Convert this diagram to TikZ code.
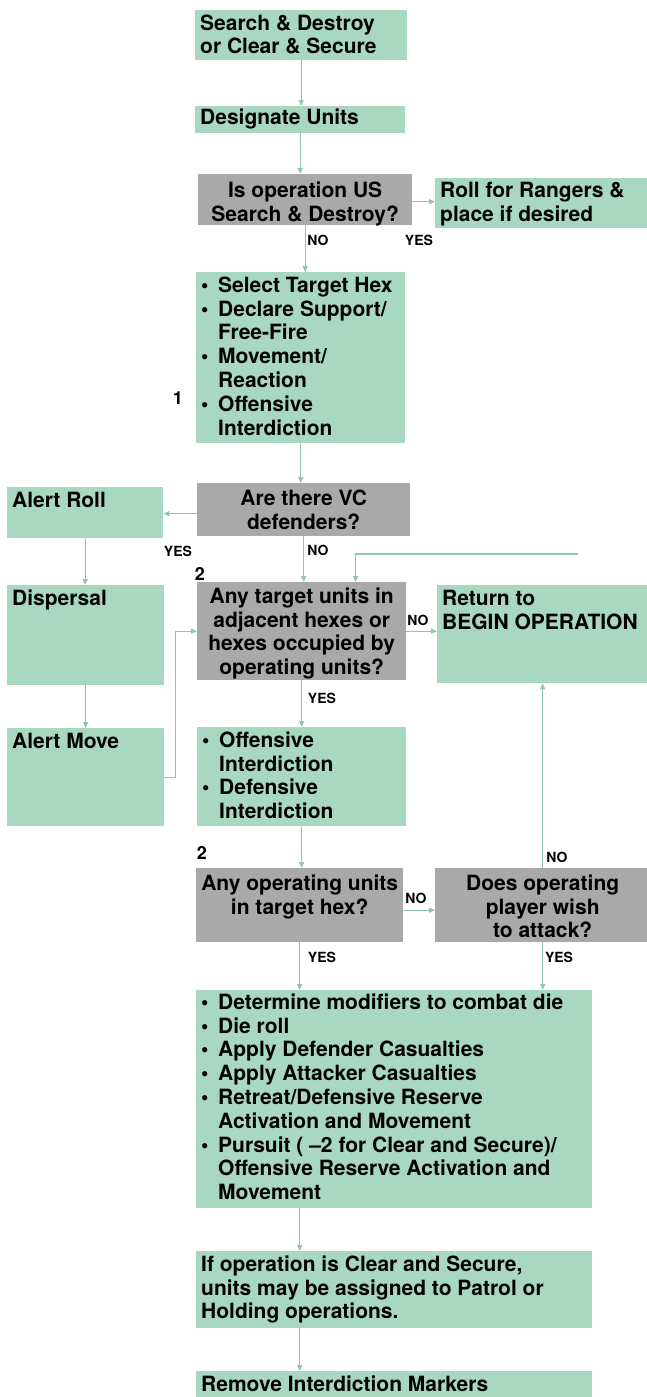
\documentclass[tikz,border=0pt]{standalone}
\usepackage{fontspec}
\setmainfont{TeX Gyre Heros}
\usetikzlibrary{arrows.meta,calc}
\definecolor{gfill}{HTML}{A8D8C2}
\definecolor{kfill}{HTML}{A9A9A9}
\definecolor{lcol}{HTML}{8EC6AF}
\newcommand\gtxt[4][20]{\parbox[c][#3pt][t]{#2pt}{\raggedright\rule{0pt}{#1pt}\ignorespaces#4}}
\newcommand\ctxt[4][22]{\parbox[c][#3pt][t]{#2pt}{\centering\rule{0pt}{#1pt}\ignorespaces#4}}
\newcommand\itm[1]{\hangindent=17pt\hangafter=1\makebox[17pt][l]{•}#1}
\tikzset{
  base/.style={inner xsep=5pt, inner ysep=0pt, anchor=north west,
    font=\fontsize{21}{23.8}\selectfont\bfseries, text=black},
  gbox/.style={base, fill=gfill},
  kbox/.style={base, fill=kfill},
  conn/.style={draw=lcol, line width=1.2pt, -{Triangle[length=6pt,width=5pt]}},
  lbl/.style={font=\fontsize{14}{14}\selectfont\bfseries, inner sep=0pt},
  num/.style={font=\fontsize{18}{18}\selectfont\bfseries, inner sep=0pt}
}
\begin{document}
\begin{tikzpicture}[x=1pt,y=-1pt]
\useasboundingbox[fill=white] (0,0) rectangle (646,1397);

% boxes
\node[gbox] (b1) at (195,10) {\gtxt{202}{50}{Search \& Destroy\\or Clear \& Secure}};
\node[gbox] (b2) at (195,106) {\gtxt[18]{200}{27}{Designate Units}};
\node[kbox] (b3) at (198,174) {\ctxt[23]{204}{51}{Is operation US\\Search \& Destroy?}};
\node[gbox] (b4) at (435,178) {\gtxt[19]{205}{50}{Roll for Rangers \&\\place if desired}};
\node[gbox] (b5) at (196,272) {\gtxt{199}{171}{\itm{Select Target Hex}\par
  \itm{Declare Support/\newline Free-Fire}\par
  \itm{Movement/\newline Reaction}\par
  \itm{Offensive\newline Interdiction}}};
\node[kbox] (b6) at (197,483) {\ctxt{203}{53}{Are there VC\\defenders?}};
\node[gbox] (ar) at (7,487) {\gtxt{146}{51}{Alert Roll}};
\node[kbox] (b9) at (197,582) {\ctxt[21]{199}{98}{Any target units in\\adjacent hexes or\\hexes occupied by\\operating units?}};
\node[gbox] (dp) at (7,585) {\gtxt{147}{100}{Dispersal}};
\node[gbox] (rt) at (437,585) {\gtxt{205}{98}{Return to\\BEGIN OPERATION}};
\node[gbox] (am) at (7,728) {\gtxt{147}{98}{Alert Move}};
\node[gbox] (b14) at (197,727) {\gtxt{199}{99}{\itm{Offensive\newline Interdiction}\par
  \itm{Defensive\newline Interdiction}}};
\node[kbox] (b15) at (196,868) {\ctxt{197}{74}{Any operating units\\in target hex?}};
\node[kbox] (b16) at (435,868) {\ctxt{205}{74}{Does operating\\player wish\\to attack?}};
\node[gbox] (b17) at (196,990) {\gtxt[19]{386}{218}{\itm{Determine modifiers to combat die}\par
  \itm{Die roll}\par
  \itm{Apply Defender Casualties}\par
  \itm{Apply Attacker Casualties}\par
  \itm{Retreat/Defensive Reserve\newline Activation and Movement}\par
  \itm{Pursuit ( –2 for Clear and Secure)/\newline Offensive Reserve Activation and\newline Movement}}};
\node[gbox] (b18) at (196,1251) {\gtxt{386}{77}{If operation is Clear and Secure,\\units may be assigned to Patrol or\\Holding operations.}};
\node[gbox] (b19) at (196,1371) {\gtxt{386}{30}{Remove Interdiction Markers}};

% labels
\node[lbl] (l1) at (318,240) {NO};
\node[lbl] (l2) at (419,240) {YES};
\node[num] (n1) at (178,398) {1};
\node[lbl] (l3) at (178,551) {YES};
\node[lbl] (l4) at (318,550) {NO};
\node[num] (n2) at (200,574) {2};
\node[lbl] (l5) at (418,620) {NO};
\node[lbl] (l6) at (322,698) {YES};
\node[num] (n3) at (202,853) {2};
\node[lbl] (l7) at (557,857) {NO};
\node[lbl] (l8) at (416,898) {NO};
\node[lbl] (l9) at (322,957) {YES};
\node[lbl] (l10) at (559,957) {YES};

% connectors
\draw[conn] (b1.south) -- (b1.south |- b2.north);
\draw[conn] (b2.south) -- (b2.south |- b3.north);
\draw[conn] ([yshift=-2pt]b3.east) -- ([yshift=-2pt]b3.east -| b4.west);
\draw[conn] (b3.south) -- (b3.south |- b5.north);
\draw[conn] (b5.south) -- (b5.south |- b6.north);
\draw[conn] ([yshift=-4pt]b6.west) -- ([yshift=-4pt]b6.west -| ar.east);
\draw[conn] (b6.south) -- (b6.south |- b9.north);
\draw[conn] (ar.south) -- (ar.south |- dp.north);
\draw[conn] (dp.south) -- (dp.south |- am.north);
\draw[conn] (am.east) -- ++(11,0) |- (b9.west);
\draw[conn] (b9.east) -- (b9.east -| rt.west);
\coordinate (in) at (578,554);
\draw[conn] (in) -| ([xshift=54pt]b9.north);
\draw[conn] (b9.south) -- (b9.south |- b14.north);
\draw[conn] (b14.south) -- (b14.south |- b15.north);
\draw[conn] ([yshift=-5pt]b15.east) -- ([yshift=-5pt]b15.east -| b16.west);
\draw[conn] (b16.north) -- (b16.north |- rt.south);
\draw[conn] (b15.south) -- (b15.south |- b17.north);
\draw[conn] (b16.south) -- (b16.south |- b17.north);
\draw[conn] (b17.south -| b15.south) -- (b18.north -| b15.south);
\draw[conn] (b18.south -| b15.south) -- (b19.north -| b15.south);
\end{tikzpicture}
\end{document}
